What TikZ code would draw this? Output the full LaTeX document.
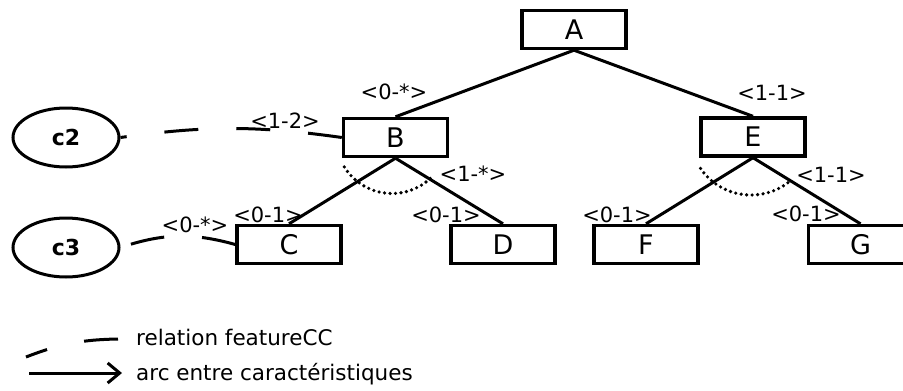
\documentclass[tikz,border=0pt]{standalone}
\usepackage{fontspec}
\setmainfont{DejaVu Sans}
\usetikzlibrary{arrows.meta,shapes.geometric}
\begin{document}
\begin{tikzpicture}[x=1pt,y=-1pt,
  feat/.style={draw, line width=3.4pt, minimum width=104pt, minimum height=38pt, inner sep=0pt, font=\fontsize{27}{30}\selectfont},
  ctx/.style={ellipse, draw, line width=3pt, minimum width=106pt, minimum height=59pt, inner sep=0pt, font=\fontsize{22}{24}\selectfont\bfseries},
  edge/.style={line width=3pt},
  card/.style={font=\fontsize{21}{24}\selectfont, inner sep=0pt},
  legtxt/.style={font=\fontsize{21.5}{24}\selectfont, inner sep=0pt},
  rel/.style={line width=3pt, dash pattern=on 34pt off 38pt},
  grp/.style={line width=3.6pt, dash pattern=on 0pt off 5.5pt, line cap=round}]
\useasboundingbox (0,0) rectangle (903,391);
\clip (0,0) rectangle (903,391);
% features
\node[feat] (A) at (574,29.5) {A};
\node[feat] (B) at (395.5,137.5) {B};
\node[feat] (E) at (753,137) {E};
\node[feat] (C) at (289,244.5) {C};
\node[feat] (D) at (503,244.5) {D};
\node[feat] (F) at (646,244.5) {F};
\node[feat] (G) at (860.5,244.5) {G};
% contexts
\node[ctx] (c2) at (66,137.5) {c2};
\node[ctx] (c3) at (66,247.5) {c3};
% tree edges
\draw[edge] (A.south) -- (B.north);
\draw[edge] (A.south) -- (E.north);
\draw[edge] (B.south) -- (C.north);
\draw[edge] (B.south) -- (D.north);
\draw[edge] (E.south) -- (F.north);
\draw[edge] (E.south) -- (G.north);
% group arcs
\draw[grp] plot[domain=47:149, samples=40] ({392+56*cos(\x)},{137.5+56*sin(\x)});
\draw[grp] plot[domain=52:152, samples=40] ({751+60*cos(\x)},{137+58*sin(\x)});
% featureCC relations
\draw[rel] (B.west) to[bend right=8] (c2.east);
\draw[rel] (C.west) to[bend right=17] (c3.east);
% cardinalities
\node[card] (kAB) at (394,92) {<0-*>};
\node[card] (kAE) at (772,93) {<1-1>};
\node[card] (kc2) at (285,121) {<1-2>};
\node[card] (kBg) at (473,174) {<1-*>};
\node[card] (kEg) at (831,175) {<1-1>};
\node[card] (kC) at (268,215) {<0-1>};
\node[card] (kD) at (446,215) {<0-1>};
\node[card] (kF) at (617,215) {<0-1>};
\node[card] (kG) at (806,214) {<0-1>};
\node[card] (kc3) at (195,225) {<0-*>};
% legend
\coordinate (l1) at (118,339);
\coordinate (l2) at (26,357);
\draw[rel] (l1) to[bend right=10] (l2);
\coordinate (a1) at (29,373);
\coordinate (a2) at (122,373);
\draw[edge, -{Straight Barb[length=12pt,width=20pt]}] (a1) -- (a2);
\node[legtxt, anchor=base west] (t1) at (136,345) {relation featureCC};
\node[legtxt, anchor=base west] (t2) at (136,380) {arc entre caractéristiques};
\end{tikzpicture}
\end{document}
